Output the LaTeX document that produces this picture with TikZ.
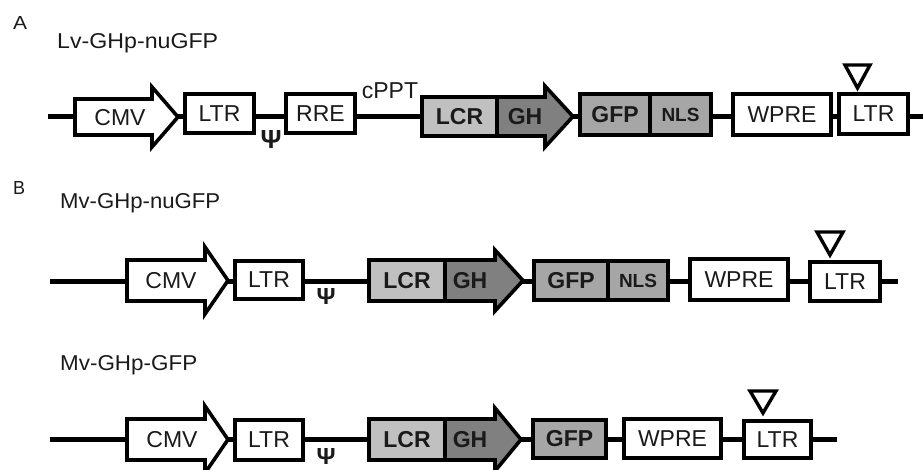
\documentclass[tikz,border=0pt]{standalone}
\usepackage{graphicx}
\usepackage{fontspec}
\setmainfont{Liberation Sans}
\definecolor{txt}{HTML}{1A1A1A}
\definecolor{lcrc}{HTML}{C0C0C0}
\definecolor{ghc}{HTML}{808080}
\definecolor{gfpc}{HTML}{A6A6A6}
\begin{document}
\begin{tikzpicture}[x=1pt,y=-1pt,
  outl/.style={draw=black,line width=3.6pt,line join=miter},
  box/.style={outl,fill=white,inner sep=0pt,text=txt,font=\fontsize{23}{23}\selectfont},
  bbox/.style={box,font=\fontsize{23}{23}\selectfont\bfseries},
  lbl/.style={inner sep=0pt,text=txt,font=\fontsize{23}{23}\selectfont},
  blbl/.style={lbl,font=\fontsize{23}{23}\selectfont\bfseries},
  title/.style={lbl,anchor=base west,font=\fontsize{22}{22}\selectfont},
  psi/.style={inner sep=0pt,text=txt,font=\fontsize{26}{26}\selectfont\bfseries},
  backbone/.style={draw=black,line width=5pt},
  tri/.style={draw=black,line width=3.4pt,fill=white,line join=miter}]
\useasboundingbox (0,0) rectangle (923,470);
\clip (0,0) rectangle (923,470);

% ---------------- A ----------------
\node[title] (labA) at (13,30) {\resizebox{14pt}{13pt}{A}};
\node[title] (titA) at (57,49) {\resizebox{161pt}{15pt}{Lv-GHp-nuGFP}};
\coordinate (sA) at (48,117);
\coordinate (eA) at (923,117);
\draw[backbone] (sA) -- (eA);
\draw[outl,fill=white] (75,99) -- (152,99) -- (152,87) -- (178,117) -- (152,147) -- (152,135) -- (75,135) -- cycle;
\node[lbl] (cmvA) at (120,118) {CMV};
\node[box,minimum width=69pt,minimum height=39pt] (ltrA1) at (219.5,113.5) {LTR};
\node[psi] (psiA) at (271,139.5) {\resizebox{21pt}{18pt}{Ψ}};
\node[box,minimum width=69pt,minimum height=39pt] (rreA) at (320.5,113.5) {RRE};
\node[lbl] (cpptA) at (390,91) {cPPT};
\draw[outl,fill=ghc] (497,97) -- (545,97) -- (545,86) -- (573,116.5) -- (545,147) -- (545,136) -- (497,136) -- cycle;
\node[blbl] (ghA) at (525,117) {GH};
\node[bbox,fill=lcrc,minimum width=75pt,minimum height=39pt] (lcrA) at (459.5,116.5) {LCR};
\node[bbox,fill=gfpc,minimum width=70pt,minimum height=41pt] (gfpA) at (615,114.5) {GFP};
\node[bbox,fill=gfpc,minimum width=61pt,minimum height=41pt,font=\fontsize{19}{19}\selectfont\bfseries] (nlsA) at (680.5,114.5) {NLS};
\node[box,minimum width=98pt,minimum height=41pt] (wpreA) at (782,114.5) {WPRE};
\node[box,minimum width=69pt,minimum height=40pt] (ltrA2) at (873.5,114) {LTR};
\draw[tri] (845,65) -- (870,65) -- (857.5,88) -- cycle;

% ---------------- B ----------------
\node[title] (labB) at (13,195) {\resizebox{12pt}{13pt}{B}};
\node[title] (titB1) at (60,209) {\resizebox{160pt}{15pt}{Mv-GHp-nuGFP}};
\coordinate (sB1) at (50,281);
\coordinate (eB1) at (898,281);
\draw[backbone] (sB1) -- (eB1);
\draw[outl,fill=white] (127,260) -- (205,260) -- (205,247) -- (228,280.5) -- (205,314) -- (205,301) -- (127,301) -- cycle;
\node[lbl] (cmvB1) at (171,281) {CMV};
\node[box,minimum width=68pt,minimum height=38pt] (ltrB1) at (269,280) {LTR};
\node[psi] (psiB1) at (326,296) {\resizebox{19pt}{16pt}{Ψ}};
\draw[outl,fill=ghc] (445,260) -- (495,260) -- (495,250) -- (523,280.5) -- (495,311) -- (495,301) -- (445,301) -- cycle;
\node[blbl] (ghB1) at (470,281) {GH};
\node[bbox,fill=lcrc,minimum width=76pt,minimum height=41pt] (lcrB1) at (407,280.5) {LCR};
\node[bbox,fill=gfpc,minimum width=74pt,minimum height=39pt] (gfpB1) at (571,280.5) {GFP};
\node[bbox,fill=gfpc,minimum width=60pt,minimum height=39pt,font=\fontsize{19}{19}\selectfont\bfseries] (nlsB1) at (638,280.5) {NLS};
\node[box,minimum width=98pt,minimum height=41pt] (wpreB1) at (739,279.5) {WPRE};
\node[box,minimum width=70pt,minimum height=39pt] (ltrB1b) at (845,281.5) {LTR};
\draw[tri] (817,232) -- (843,232) -- (830,255) -- cycle;

% ---------------- B, second ----------------
\node[title] (titB2) at (60,370) {\resizebox{137pt}{15pt}{Mv-GHp-GFP}};
\coordinate (sB2) at (50,439);
\coordinate (eB2) at (837,439);
\draw[backbone] (sB2) -- (eB2);
\draw[outl,fill=white] (127,419) -- (205,419) -- (205,406) -- (228,439.5) -- (205,473) -- (205,460) -- (127,460) -- cycle;
\node[lbl] (cmvB2) at (172,440) {CMV};
\node[box,minimum width=68pt,minimum height=40pt] (ltrB2) at (269,440) {LTR};
\node[psi] (psiB2) at (326,456) {\resizebox{19pt}{16pt}{Ψ}};
\draw[outl,fill=ghc] (445,419) -- (495,419) -- (495,408) -- (521,439.5) -- (495,471) -- (495,460) -- (445,460) -- cycle;
\node[blbl] (ghB2) at (470,440) {GH};
\node[bbox,fill=lcrc,minimum width=76pt,minimum height=41pt] (lcrB2) at (407,439.5) {LCR};
\node[bbox,fill=gfpc,minimum width=73pt,minimum height=38pt] (gfpB2) at (569.5,439) {GFP};
\node[box,minimum width=97pt,minimum height=39pt] (wpreB2) at (672.5,438.5) {WPRE};
\node[box,minimum width=67pt,minimum height=37pt] (ltrB2b) at (777.5,439.5) {LTR};
\draw[tri] (750,391) -- (776,391) -- (763,413) -- cycle;
\end{tikzpicture}
\end{document}
